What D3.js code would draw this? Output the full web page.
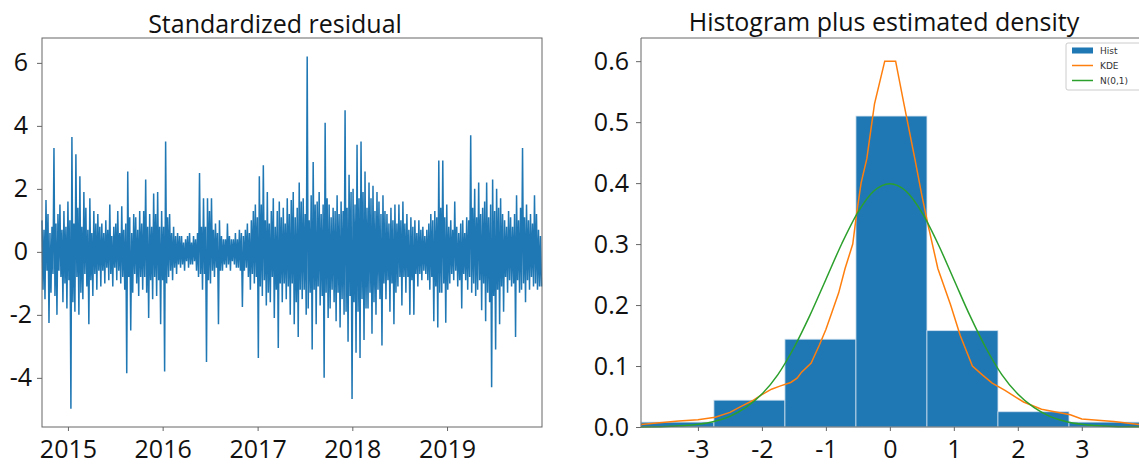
<!DOCTYPE html>
<html>
<head>
<meta charset="utf-8">
<script src="https://cdn.jsdelivr.net/npm/d3@7"></script>
<style>
  body { margin: 0; background: #fff; }
  svg text { font-family: 'Open Sans', sans-serif; fill: #111; }
  .frame { fill: none; stroke: #666; stroke-width: 1; }
  .axis path { display: none; }
  .axis line { stroke: #666; }
  .axis text { font-size: 25px; }
  .title { font-size: 25px; }
  .legend text { font-family: 'DejaVu Sans', sans-serif; font-size: 9px; fill: #333; }
</style>
</head>
<body>
<script>
// standardized residual series:
// one high and one low value per ~2px slot (about 4 days each)
const residStart = '2014-09-23'
const residEnd = '2019-12-31'
const residuals = [
  1.0, -1.2, 0.7, -1.5, 1.65, -0.6, 1.2, -2.26, 0.6, -1.3, 0.8, -0.7, 3.3, -1.4, 0.9, -2.0, 1.2, -0.6, 1.5, -0.8,
  0.7, -1.6, 1.3, -1.0, 0.8, -1.8, 1.6, -0.9, 1.0, -4.98, 3.65, -1.6, 0.9, -1.9, 3.1, -0.8, 1.4, -2.0, 2.4, -1.3,
  0.8, -1.5, 1.9, -0.7, 1.4, -1.1, 0.7, -2.3, 1.7, -0.9, 0.6, -1.4, 1.3, -0.7, 0.9, -1.2, 1.2, -0.6, 0.8, -1.1,
  0.9, -0.6, 0.6, -1.0, 1.0, -0.5, 0.7, -0.9, 1.5, -0.7, 0.5, -1.1, 0.8, -0.5, 0.9, -0.9, 1.3, -0.6, 0.6, -1.0,
  1.45, -0.8, 0.7, -1.2, 0.9, -3.85, 2.55, -0.8, 1.1, -2.5, 0.6, -1.3, 1.2, -0.7, 1.1, -1.0, 0.7, -1.4, 1.3, -0.8,
  0.9, -1.2, 1.3, -0.8, 2.3, -1.3, 0.8, -2.1, 1.2, -0.9, 0.8, -1.5, 1.85, -0.8, 1.2, -1.4, 1.9, -0.9, 0.8, -2.3,
  1.3, -0.9, 0.8, -3.8, 3.5, -1.0, 1.1, -0.8, 1.2, -0.6, 0.6, -0.9, 0.8, -0.5, 0.5, -0.7, 0.6, -0.4, 0.5, -0.5,
  0.5, -0.4, 0.3, -0.6, 0.4, -0.3, 0.5, -0.5, 0.6, -0.4, 0.3, -0.4, 0.5, -0.3, 0.4, -0.6, 0.6, -0.8, 2.5, -0.7,
  0.8, -1.2, 1.7, -0.7, 0.8, -3.5, 1.7, -0.9, 1.3, -1.0, 1.7, -0.6, 0.7, -0.8, 0.9, -0.5, 0.6, -2.3, 1.0, -0.6,
  0.5, -0.6, 0.4, -0.4, 0.4, -0.5, 0.9, -0.4, 0.5, -0.6, 0.4, -0.3, 0.4, -0.4, 0.6, -0.5, 0.4, -0.5, 0.7, -0.6,
  0.6, -1.75, 0.5, -0.6, 0.7, -0.5, 0.9, -0.8, 0.6, -1.2, 1.0, -0.7, 1.3, -1.0, 1.5, -0.8, 1.1, -3.37, 2.4, -1.1,
  1.5, -1.4, 2.75, -0.9, 1.0, -1.7, 1.9, -1.3, 0.9, -1.6, 1.3, -0.8, 1.7, -2.1, 0.8, -1.2, 1.3, -3.05, 1.6, -1.0,
  1.1, -1.6, 1.4, -1.0, 0.9, -1.5, 1.7, -1.1, 1.2, -2.0, 1.65, -1.0, 1.9, -2.3, 1.1, -1.6, 1.4, -2.7, 2.2, -1.2,
  1.6, -1.5, 1.7, -1.2, 1.2, -2.0, 6.2, -1.8, 1.0, -1.3, 1.8, -3.1, 2.85, -1.2, 1.5, -2.3, 1.6, -1.1, 1.9, -1.7,
  1.2, -1.4, 1.5, -4.0, 4.1, -1.3, 1.7, -2.1, 1.5, -1.8, 1.1, -1.2, 1.4, -1.6, 1.3, -2.2, 1.8, -1.3, 1.2, -2.4,
  1.6, -1.5, 1.3, -2.0, 4.5, -1.9, 1.4, -2.85, 2.45, -1.4, 1.9, -4.67, 2.0, -1.6, 1.5, -3.2, 3.4, -1.9, 1.7, -3.37,
  3.5, -1.5, 1.9, -2.8, 2.55, -1.8, 1.4, -1.8, 2.2, -1.3, 1.7, -2.6, 2.1, -1.6, 1.3, -2.0, 1.9, -1.2, 1.6, -1.5,
  1.2, -2.97, 1.8, -1.0, 1.3, -1.5, 1.2, -0.9, 0.9, -1.9, 1.4, -1.0, 1.0, -2.3, 1.5, -1.3, 0.9, -1.1, 1.5, -0.8,
  1.0, -1.7, 1.6, -0.8, 0.9, -1.3, 1.2, -0.8, 0.7, -2.0, 1.1, -0.9, 0.8, -2.0, 1.0, -0.7, 0.6, -1.1, 1.0, -0.7,
  0.7, -0.9, 0.8, -0.6, 0.5, -0.7, 0.7, -0.9, 0.9, -1.2, 1.2, -0.8, 1.0, -2.2, 1.3, -1.1, 1.1, -2.4, 2.9, -1.3,
  1.4, -1.3, 2.9, -1.0, 1.1, -2.25, 1.5, -1.2, 0.8, -1.0, 1.0, -0.7, 0.7, -0.9, 1.6, -0.6, 0.8, -1.1, 0.6, -0.9,
  0.9, -1.8, 1.0, -0.7, 0.6, -0.9, 1.1, -1.2, 1.0, -0.8, 3.7, -1.3, 1.4, -1.0, 2.0, -1.4, 1.1, -1.2, 2.2, -0.9,
  1.2, -1.85, 1.4, -1.0, 1.6, -2.2, 2.2, -1.3, 1.1, -1.6, 1.5, -4.3, 2.3, -1.4, 1.3, -3.1, 2.0, -1.2, 1.4, -2.3,
  1.7, -1.1, 1.2, -1.9, 1.0, -0.8, 0.8, -1.3, 1.3, -0.9, 1.1, -1.1, 0.8, -1.0, 1.2, -2.7, 1.8, -0.9, 1.0, -1.3,
  1.4, -1.2, 3.3, -1.0, 1.1, -1.6, 1.5, -0.9, 1.0, -1.2, 1.2, -0.8, 0.9, -1.1, 1.8, -1.0, 1.2, -1.2, 0.7, -1.1,
  0.5, -1.1
]
const residYTicks = [-4, -2, 0, 2, 4, 6]
const residXTicks = ['2015-01-01', '2016-01-01', '2017-01-01', '2018-01-01', '2019-01-01']

// histogram + densities
const histEdges = [-3.89, -2.75, -1.64, -0.53, 0.58, 1.69, 2.80, 3.91]
const histDensity = [0.008, 0.044, 0.144, 0.51, 0.158, 0.025, 0.008]
const kdeX = [-3.89, -3.6, -3.3, -3.0, -2.73, -2.5, -2.34, -2.15, -2.0, -1.85, -1.72, -1.55, -1.45, -1.38,
  -1.23, -1.1, -1.0, -0.9, -0.8, -0.7, -0.58, -0.52, -0.45, -0.36, -0.24, -0.08, 0.09, 0.22, 0.39,
  0.5, 0.6, 0.75, 0.95, 1.1, 1.29, 1.45, 1.6, 1.8, 2.09, 2.37, 2.82, 3.0, 3.5, 3.91]
const kdeY = [0.004, 0.007, 0.010, 0.012, 0.016, 0.024, 0.033, 0.043, 0.053, 0.062, 0.067, 0.073, 0.08, 0.09,
  0.105, 0.135, 0.16, 0.19, 0.22, 0.26, 0.30, 0.35, 0.40, 0.44, 0.53, 0.60, 0.60, 0.53, 0.44,
  0.38, 0.33, 0.26, 0.20, 0.15, 0.10, 0.085, 0.072, 0.06, 0.041, 0.029, 0.02, 0.013, 0.009, 0.004]
const normX = [-3.89, -3.5, -3.0, -2.75, -2.5, -2.25, -2.0, -1.75, -1.5, -1.25, -1.0, -0.75, -0.5, -0.25, 0,
  0.25, 0.5, 0.75, 1.0, 1.25, 1.5, 1.75, 2.0, 2.25, 2.5, 2.75, 3.0, 3.5, 3.91]
const normY = [0.0002, 0.0009, 0.0044, 0.009, 0.0175, 0.032, 0.054, 0.086, 0.13, 0.183, 0.242, 0.301, 0.352, 0.387, 0.399,
  0.387, 0.352, 0.301, 0.242, 0.183, 0.13, 0.086, 0.054, 0.032, 0.0175, 0.009, 0.0044, 0.0009, 0.0002]
const densYTicks = [0, 0.1, 0.2, 0.3, 0.4, 0.5, 0.6]
const densXTicks = [-3, -2, -1, 0, 1, 2, 3]
const legendLabels = ['Hist', 'KDE', 'N(0,1)']

const blue = '#1f77b4'
const orange = '#ff7f0e'
const green = '#2ca02c'

const width = 1139
const height = 464
const left = {x0: 42, x1: 542, y0: 38, y1: 427}
const right = {x0: 641, x1: 1140, y0: 38, y1: 427}

const svg = d3.select('body').append('svg')
    .attr('width', width)
    .attr('height', height)

// ---------- left panel ----------
const t0 = new Date(residStart)
const t1 = new Date(residEnd)
const residData = residuals.map((v, i) => ({
  date: new Date(+t0 + i * (t1 - t0) / (residuals.length - 1)),
  value: v
}))

const x1 = d3.scaleTime().domain([new Date('2014-09-23'), new Date('2020-01-02')]).range([left.x0, left.x1])
const y1 = d3.scaleLinear().domain([-5.56, 6.79]).range([left.y1, left.y0])

svg.append('path')
    .datum(residData)
    .attr('fill', 'none')
    .attr('stroke', blue)
    .attr('stroke-width', 1.5)
    .attr('d', d3.line().x((d) => x1(d.date)).y((d) => y1(d.value)))

svg.append('rect')
    .attr('class', 'frame')
    .attr('x', left.x0).attr('y', left.y0)
    .attr('width', left.x1 - left.x0).attr('height', left.y1 - left.y0)

svg.append('g')
    .attr('class', 'axis')
    .attr('transform', `translate(0, ${left.y1})`)
    .call(d3.axisBottom(x1).tickValues(residXTicks.map((d) => new Date(d)))
      .tickFormat(d3.timeFormat('%Y')).tickSize(4).tickPadding(9))

svg.append('g')
    .attr('class', 'axis')
    .attr('transform', `translate(${left.x0}, 0)`)
    .call(d3.axisLeft(y1).tickValues(residYTicks).tickFormat((d) => String(d)).tickSize(5))
    .selectAll('text')
    .attr('text-anchor', 'middle')
    .attr('x', -21)

svg.append('text')
    .attr('class', 'title')
    .attr('x', 275).attr('y', 33)
    .attr('text-anchor', 'middle')
    .text('Standardized residual')

// ---------- right panel ----------
const x2 = d3.scaleLinear().domain([-3.89, 3.91]).range([right.x0, right.x1])
const y2 = d3.scaleLinear().domain([0, 0.638]).range([right.y1, right.y0])

const bins = histDensity.map((h, i) => ({x0: histEdges[i], x1: histEdges[i + 1], h}))
svg.append('g').selectAll('rect')
  .data(bins)
  .enter().append('rect')
    .attr('x', (d) => x2(d.x0))
    .attr('y', (d) => y2(d.h))
    .attr('width', (d) => x2(d.x1) - x2(d.x0))
    .attr('height', (d) => y2(0) - y2(d.h))
    .attr('fill', blue)
    .attr('stroke', '#cfe0ee')
    .attr('stroke-width', 0.8)

const dens = d3.line().x((d) => x2(d[0])).y((d) => y2(d[1]))
svg.append('path')
    .datum(kdeX.map((v, i) => [v, kdeY[i]]))
    .attr('fill', 'none').attr('stroke', orange).attr('stroke-width', 1.5)
    .attr('d', dens)
svg.append('path')
    .datum(normX.map((v, i) => [v, normY[i]]))
    .attr('fill', 'none').attr('stroke', green).attr('stroke-width', 1.5)
    .attr('d', dens.curve(d3.curveMonotoneX))

svg.append('path')
    .attr('class', 'frame')
    .attr('d', `M${right.x1},${right.y0}H${right.x0}V${right.y1}H${right.x1}V${right.y0}`)

svg.append('g')
    .attr('class', 'axis')
    .attr('transform', `translate(0, ${right.y1})`)
    .call(d3.axisBottom(x2).tickValues(densXTicks).tickFormat((d) => String(d)).tickSize(4).tickPadding(9))

svg.append('g')
    .attr('class', 'axis')
    .attr('transform', `translate(${right.x0}, 0)`)
    .call(d3.axisLeft(y2).tickValues(densYTicks).tickFormat(d3.format('.1f')).tickSize(5).tickPadding(7))

svg.append('text')
    .attr('class', 'title')
    .attr('x', 884).attr('y', 31)
    .attr('text-anchor', 'middle')
    .text('Histogram plus estimated density')

// legend
const legend = svg.append('g').attr('class', 'legend')
legend.append('rect')
    .attr('x', 1066).attr('y', 43)
    .attr('width', 80).attr('height', 47)
    .attr('rx', 2)
    .attr('fill', '#fff').attr('fill-opacity', 0.8)
    .attr('stroke', '#ccc')

const legendColors = [blue, orange, green]
legendLabels.forEach((label, i) => {
  const cy = 50.5 + i * 15
  if (i === 0) {
    legend.append('rect')
      .attr('x', 1072).attr('y', cy - 3).attr('width', 21).attr('height', 6)
      .attr('fill', legendColors[i])
  } else {
    legend.append('line')
      .attr('x1', 1072).attr('x2', 1093).attr('y1', cy).attr('y2', cy)
      .attr('stroke', legendColors[i]).attr('stroke-width', 1.5)
  }
  legend.append('text')
    .attr('x', 1100).attr('y', cy)
    .attr('dy', '0.35em')
    .text(label)
})
</script>
</body>
</html>
